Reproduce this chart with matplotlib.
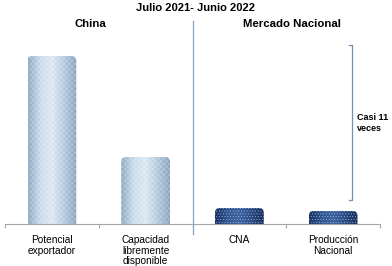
import numpy as np
import matplotlib
matplotlib.use("Agg")
import matplotlib.pyplot as plt
from matplotlib.patches import FancyBboxPatch
from matplotlib.colors import LinearSegmentedColormap

plt.rcParams['font.family'] = ['Liberation Sans', 'DejaVu Sans']
plt.rcParams['hatch.linewidth'] = 0.4

# data (arbitrary units)
categories = ["Potencial\nexportador", "Capacidad\nlibremente\ndisponible", "CNA", "Producción\nNacional"]
values = [168, 67, 16, 13]
groups = ["China", "Mercado Nacional"]
title = "Julio 2021- Junio 2022"
note = "Casi 11\nveces"

fig = plt.figure(figsize=(3.92, 2.66), dpi=100)
ax = fig.add_axes([5/392, 42/266, 375/392, 184/266])
ax.set_xlim(-0.5, 3.5)
ax.set_ylim(0, 184)

light = LinearSegmentedColormap.from_list("light", ["#8ea8c3", "#c9dbea", "#dbe7f2", "#b3c9dd", "#8aa4bf"])
dark = LinearSegmentedColormap.from_list("dark", ["#16305e", "#2f548f", "#3b62a0", "#284a84", "#142c58"])

w = 0.52
aspect = 375 / 4
for i, v in enumerate(values):
    cmap = light if i < 2 else dark
    x0 = i - w / 2
    patch = FancyBboxPatch((x0, -6), w, v + 6, boxstyle="round,pad=0,rounding_size=0.05",
                           mutation_aspect=aspect, facecolor="none", edgecolor="none")
    ax.add_patch(patch)
    grad = np.linspace(0, 1, 64).reshape(1, -1)
    im = ax.imshow(grad, cmap=cmap, extent=(x0, x0 + w, -6, v), aspect="auto", zorder=2)
    im.set_clip_path(patch)
    hp = FancyBboxPatch((x0, -6), w, v + 6, boxstyle="round,pad=0,rounding_size=0.05",
                        mutation_aspect=aspect, facecolor="none",
                        edgecolor=(1, 1, 1, 0.35) if i < 2 else (0.78, 0.85, 0.97, 0.65),
                        hatch="xxxxxx" if i < 2 else "......", linewidth=0, zorder=3)
    ax.add_patch(hp)

for s in ["top", "right", "left"]:
    ax.spines[s].set_visible(False)
ax.spines["bottom"].set_color("#a6a6a6")
ax.spines["bottom"].set_linewidth(0.8)
ax.set_yticks([])
ax.set_xticks(range(4))
ax.set_xticklabels(categories, fontsize=7.3, linespacing=1.05)
ax.tick_params(axis="x", length=0, pad=8)
ax.set_xticks([-0.5, 0.5, 1.5, 2.5, 3.5], minor=True)
ax.tick_params(axis="x", which="minor", length=3, color="#a6a6a6", width=0.8)

# divider between groups
ax.plot([1.5, 1.5], [-10, 203], color="#7fa6c8", lw=0.9, clip_on=False)

# bracket
bx = 3.2
ax.plot([bx - 0.03, bx, bx, bx - 0.03], [179, 179, 24, 24], color="#6f93b8", lw=0.9, clip_on=False)
ax.text(bx + 0.05, 101, note, fontsize=6.5, fontweight="bold", va="center", ha="left")

fig.text(196/392, 1 - 8/266, title, fontsize=8, fontweight="bold", ha="center", va="center")
fig.text(90/392, 1 - 24/266, groups[0], fontsize=8.2, fontweight="bold", ha="center", va="center")
fig.text(292/392, 1 - 24/266, groups[1], fontsize=8.2, fontweight="bold", ha="center", va="center")

fig.savefig("out.png", dpi=100)
